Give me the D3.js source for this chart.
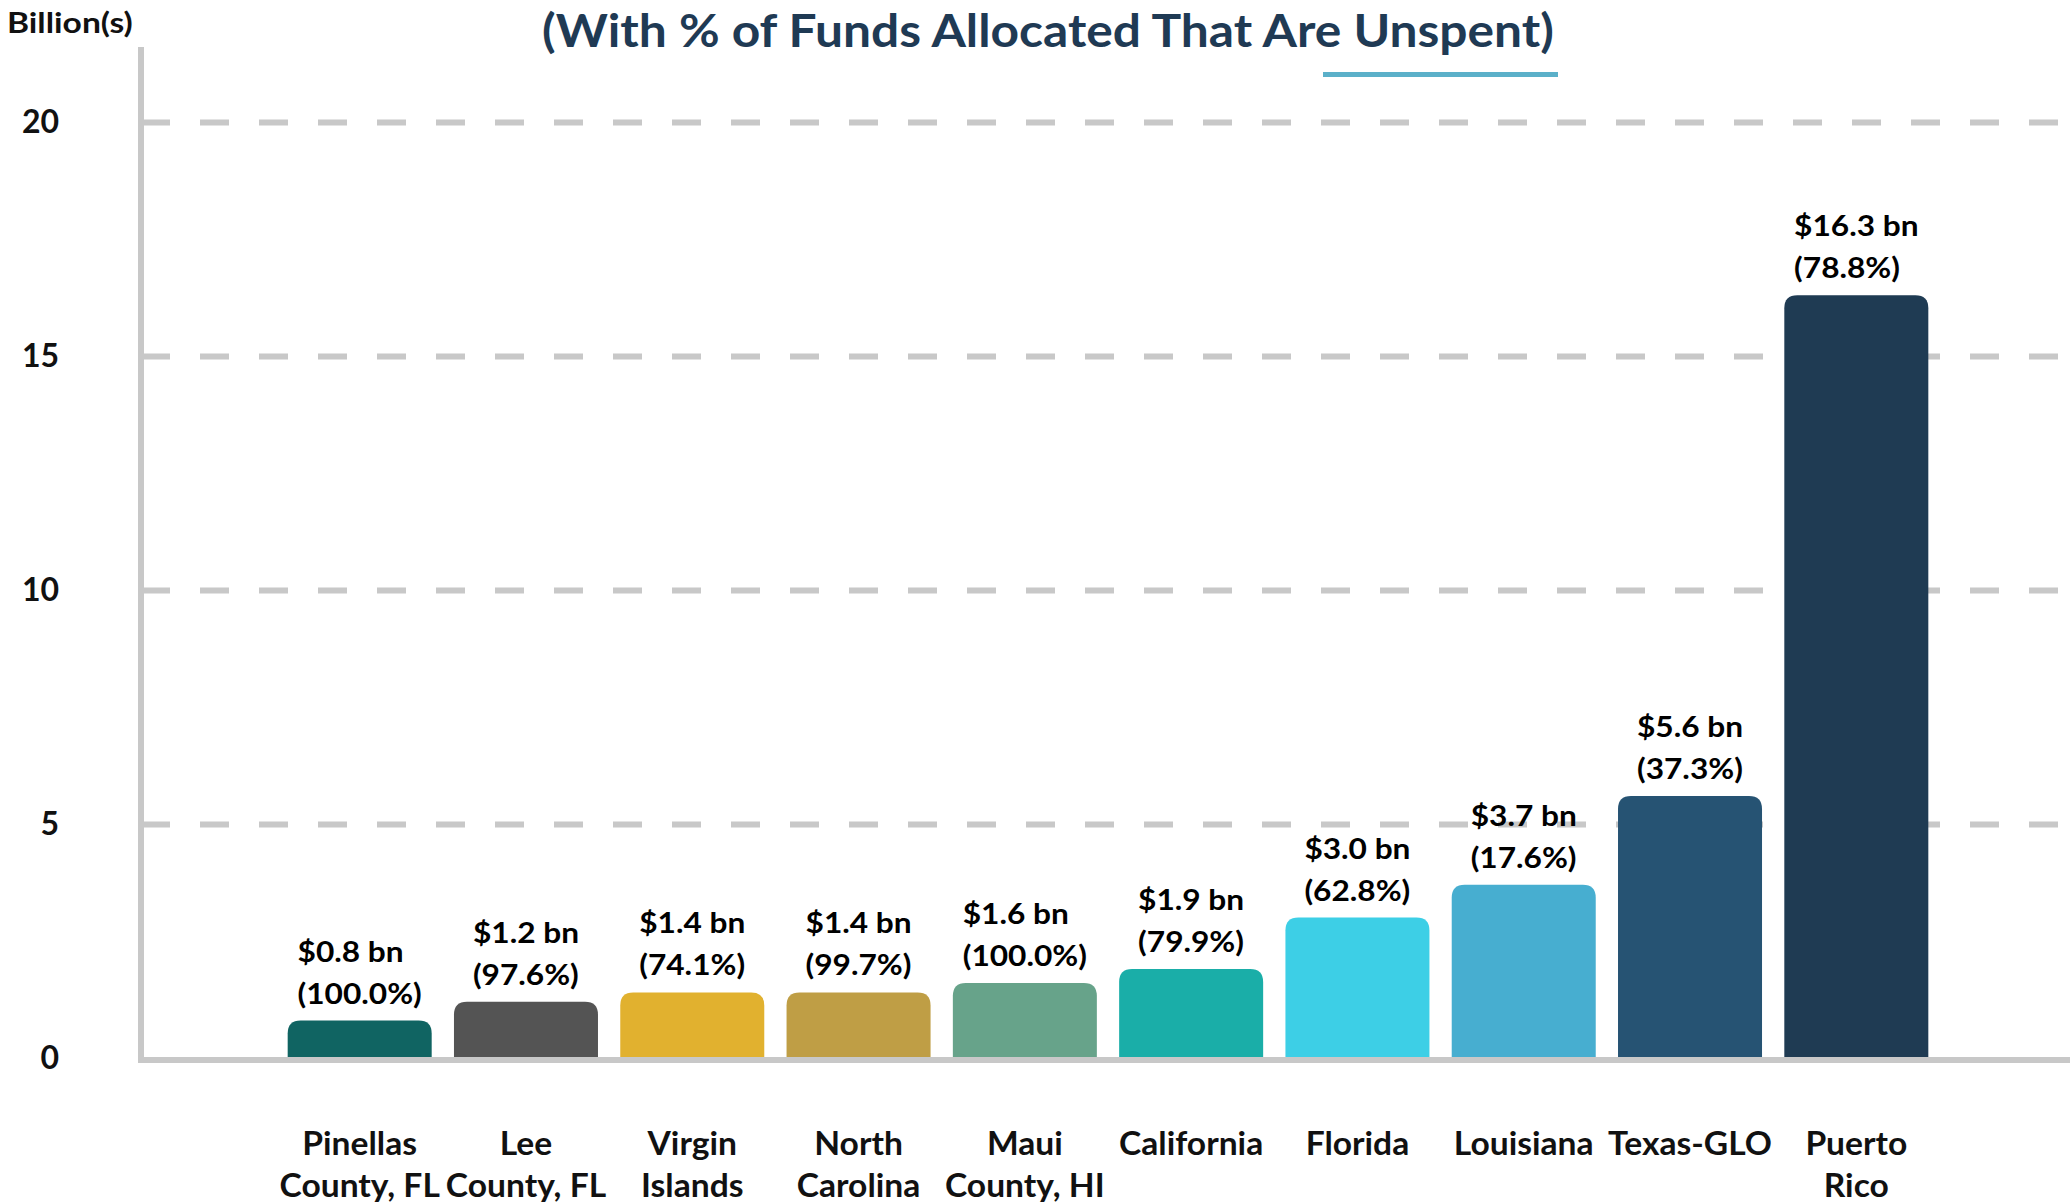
<!DOCTYPE html>
<html>
<head>
<meta charset="utf-8">
<script src="https://cdn.jsdelivr.net/npm/d3@7"></script>
<style>
  body { margin: 0; background: #fff; }
  text { font-family: Lato, "Open Sans", sans-serif; font-weight: 700; }
</style>
</head>
<body>
<div id="chart"></div>
<script>
// chart data
var categories = [
	["Pinellas", "County, FL"],
	["Lee", "County, FL"],
	["Virgin", "Islands"],
	["North", "Carolina"],
	["Maui", "County, HI"],
	["California"],
	["Florida"],
	["Louisiana"],
	["Texas-GLO"],
	["Puerto", "Rico"]
];
var values = [0.8, 1.2, 1.4, 1.4, 1.6, 1.9, 3.0, 3.7, 5.6, 16.3];
var unspentPct = [100.0, 97.6, 74.1, 99.7, 100.0, 79.9, 62.8, 17.6, 37.3, 78.8];
var barColors = ["#106462", "#545454", "#e1b12f", "#bf9e45", "#67a38a",
	"#1aaea8", "#3dcfe6", "#47aed0", "#265373", "#1f3b53"];
var yTicks = [0, 5, 10, 15, 20];
var titleText = "(With % of Funds Allocated That Are Unspent)";
var unitText = "Billion(s)";

var width = 2070, height = 1203;
var axisX = 141, axisTop = 47;
var gridColor = "#c8c8c8";

var svg = d3.select("#chart").append("svg")
	.attr("width", width)
	.attr("height", height);

svg.append("rect")
	.attr("width", width)
	.attr("height", height)
	.attr("fill", "#fff");

var names = categories.map(function(c) { return c.join(" "); });

var x = d3.scaleBand()
	.domain(names)
	.range([146, width])
	.paddingInner(0.134)
	.paddingOuter(0.852);

var y = d3.scaleLinear()
	.domain([0, 20])
	.range([1058, 122]);

// stretch text horizontally (the source chart is wider than normal glyphs)
function widen(sel, k) {
	sel.each(function() {
		var w = this.getComputedTextLength();
		d3.select(this).attr("textLength", w * k).attr("lengthAdjust", "spacingAndGlyphs");
	});
}

// dashed gridlines
var grid = svg.append("g")
	.attr("transform", "translate(" + axisX + ",0)")
	.call(d3.axisRight(y)
		.tickValues(yTicks.filter(function(t) { return t > 0; }))
		.tickSize(width - axisX)
		.tickFormat(""));
grid.select(".domain").remove();
grid.selectAll(".tick line")
	.attr("stroke", gridColor)
	.attr("stroke-width", 6)
	.attr("stroke-dasharray", "29 30");

// y tick labels
var yAxis = svg.append("g")
	.attr("transform", "translate(" + axisX + ",0)")
	.call(d3.axisLeft(y).tickValues(yTicks).tickSize(0).tickPadding(82));
yAxis.select(".domain").remove();
yAxis.selectAll(".tick text")
	.attr("font-size", 32)
	.attr("fill", "#111")
	.attr("font-family", "Lato, sans-serif");

// bars with rounded tops
function barPath(x0, w, top, bottom, r) {
	r = Math.min(r, bottom - top, w / 2);
	return "M" + x0 + "," + bottom +
		"V" + (top + r) +
		"Q" + x0 + "," + top + " " + (x0 + r) + "," + top +
		"H" + (x0 + w - r) +
		"Q" + (x0 + w) + "," + top + " " + (x0 + w) + "," + (top + r) +
		"V" + bottom + "Z";
}

svg.append("g").selectAll("path")
	.data(values)
	.enter().append("path")
	.attr("d", function(d, i) {
		return barPath(x(names[i]), x.bandwidth(), y(d), y(0), 13);
	})
	.attr("fill", function(d, i) { return barColors[i]; });

// axis lines
svg.append("line")
	.attr("x1", axisX).attr("x2", axisX)
	.attr("y1", axisTop).attr("y2", y(0) + 5)
	.attr("stroke", gridColor).attr("stroke-width", 6);
svg.append("line")
	.attr("x1", axisX - 3).attr("x2", width)
	.attr("y1", y(0) + 2).attr("y2", y(0) + 2)
	.attr("stroke", gridColor).attr("stroke-width", 6);

// value labels above bars
var labels = svg.append("g").selectAll("g")
	.data(values)
	.enter().append("g");

labels.each(function(d, i) {
	var g = d3.select(this);
	var top = y(d);
	var l1 = g.append("text")
		.attr("y", top - 59)
		.attr("font-size", 28)
		.text("$" + d.toFixed(1) + " bn");
	var l2 = g.append("text")
		.attr("y", top - 17)
		.attr("font-size", 28)
		.text("(" + unspentPct[i].toFixed(1) + "%)");
	widen(l1, 1.13);
	widen(l2, 1.13);
	var w = Math.max(+l1.attr("textLength"), +l2.attr("textLength"));
	var left = x(names[i]) + x.bandwidth() / 2 - w / 2;
	l1.attr("x", left);
	l2.attr("x", left);
});

// category labels
var cats = svg.append("g").selectAll("text")
	.data(categories)
	.enter().append("text")
	.attr("text-anchor", "middle")
	.attr("font-size", 32)
	.attr("fill", "#111");

cats.each(function(c, i) {
	var t = d3.select(this);
	c.forEach(function(line, j) {
		var ts = t.append("tspan")
			.attr("x", x(names[i]) + x.bandwidth() / 2)
			.attr("y", 1155 + j * 42)
			.text(line);
		var w = ts.node().getComputedTextLength();
		ts.attr("textLength", w * 1.05).attr("lengthAdjust", "spacingAndGlyphs");
	});
});

// unit label
var unit = svg.append("text")
	.attr("x", 7)
	.attr("y", 33)
	.attr("font-size", 28)
	.attr("fill", "#111")
	.text(unitText);
widen(unit, 1.2);

// title
var title = svg.append("text")
	.attr("x", 1048)
	.attr("y", 47)
	.attr("text-anchor", "middle")
	.attr("font-size", 46)
	.attr("fill", "#1f3a54")
	.text(titleText);
widen(title, 1.08);

svg.append("rect")
	.attr("x", 1323)
	.attr("y", 72)
	.attr("width", 235)
	.attr("height", 5)
	.attr("fill", "#5bb0c9");
</script>
</body>
</html>
